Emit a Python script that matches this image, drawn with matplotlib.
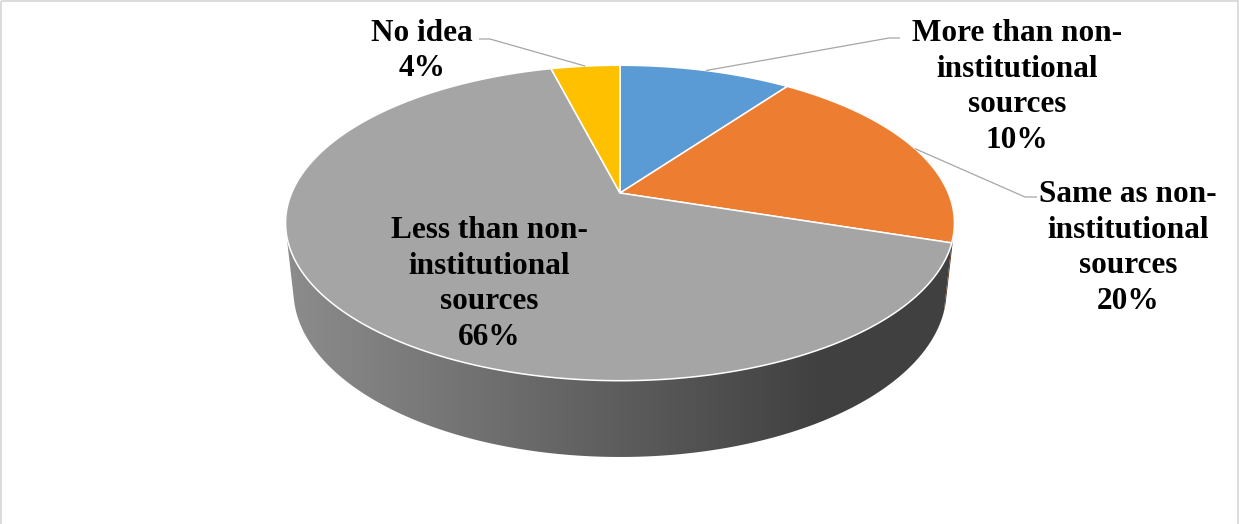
import numpy as np
import matplotlib
matplotlib.use("Agg")
import matplotlib.pyplot as plt
from matplotlib.patches import Polygon, Rectangle

# ---- data -------------------------------------------------------------
categories = [
    "More than non-\ninstitutional\nsources",
    "Same as non-\ninstitutional\nsources",
    "Less than non-\ninstitutional\nsources",
    "No idea",
]
shares = [10, 20, 66, 4]
colors = ["#5B9BD5", "#ED7D31", "#A5A5A5", "#FFC000"]

# ---- figure: one axes covering the canvas, units = pixels ----------------
W, H = 1239, 524
fig = plt.figure(figsize=(W / 100, H / 100), dpi=100)
ax = fig.add_axes([0, 0, 1, 1])
ax.set_xlim(0, W)
ax.set_ylim(H, 0)
ax.axis("off")

# ---- perspective camera for the 3-D pie ---------------------------------
CX, CY = 620.0, 193.0          # screen position of the pie centre
FOCAL = 1530.0
DIST = 4.66
SIN_T, COS_T = 0.463, 0.886    # camera elevation
THICK = 0.2334                 # pie thickness (radius = 1)


def project(theta_deg, z=0.0, r=1.0):
    """Map a point of the pie (angle clockwise from 12 o'clock) to screen."""
    t = np.radians(theta_deg)
    X = r * np.sin(t)
    Y = r * np.cos(t)
    depth = DIST + Y * COS_T - z * SIN_T
    sx = FOCAL * X / depth
    sy = FOCAL * (Y * SIN_T + z * COS_T) / depth
    return CX + sx, CY - sy


total = float(sum(shares))
bounds = np.concatenate([[0.0], np.cumsum(shares) / total * 360.0])

# visible part of the rim (outer wall facing the camera)
vis_a = np.degrees(np.arccos(-1.0 / (DIST * COS_T)))
vis_b = 360.0 - vis_a

xs = np.linspace(0, W, 600)
shade = np.clip(0.85 - (0.85 - 0.39) * (xs - 287) / (820 - 287), 0.39, 0.85)

# ---- side walls ---------------------------------------------------------
for i in range(len(shares)):
    a0, a1 = max(bounds[i], vis_a), min(bounds[i + 1], vis_b)
    if a1 <= a0:
        continue
    th = np.linspace(a0, a1, 200)
    top = np.array([project(t, 0.0) for t in th])
    bot = np.array([project(t, -THICK) for t in th[::-1]])
    poly = Polygon(np.vstack([top, bot]), closed=True, facecolor="none",
                   edgecolor="none")
    ax.add_patch(poly)
    base = np.array(matplotlib.colors.to_rgb(colors[i]))
    grad = (shade[:, None] * base[None, :])[None, :, :]
    im = ax.imshow(grad, extent=(0, W, H, 0), aspect="auto",
                   interpolation="bilinear", zorder=1)
    im.set_clip_path(poly)

ax.set_xlim(0, W)
ax.set_ylim(H, 0)

# ---- top face -----------------------------------------------------------
for i in range(len(shares)):
    th = np.linspace(bounds[i], bounds[i + 1], 200)
    arc = np.array([project(t, 0.0) for t in th])
    verts = np.vstack([[project(0, 0.0, 0.0)], arc])
    ax.add_patch(Polygon(verts, closed=True, facecolor=colors[i],
                         edgecolor="white", linewidth=1.1, zorder=2,
                         joinstyle="round"))

# ---- labels -------------------------------------------------------------
label_font = dict(family="Liberation Serif", weight="bold", size=22.5)
label_pos = [(1017, 87), (1128, 248), (489, 284), (422, 51)]
leader_knee = [((900, 38), (889, 38)),
               ((1037, 197), (1025, 197)),
               None,
               ((479, 39), (490, 39))]

for i, cat in enumerate(categories):
    text = f"{cat}\n{shares[i]}%"
    x, y = label_pos[i]
    ax.text(x, y, text, ha="center", va="center", linespacing=1.3,
            color="black", zorder=4, **label_font)
    if leader_knee[i] is not None:
        mid = (bounds[i] + bounds[i + 1]) / 2.0
        ex, ey = project(mid, 0.0)
        (x0, y0), (x1, y1) = leader_knee[i]
        ax.plot([x0, x1, ex], [y0, y1, ey], color="#A6A6A6", lw=0.9,
                zorder=3, solid_capstyle="butt")

# ---- chart frame --------------------------------------------------------
ax.add_patch(Rectangle((1.0, 1.0), 1237.0, 540.0, facecolor="none",
                       edgecolor="#D9D9D9", linewidth=1.3, zorder=5,
                       clip_on=False))

fig.savefig("out.png", dpi=100, facecolor="white")
